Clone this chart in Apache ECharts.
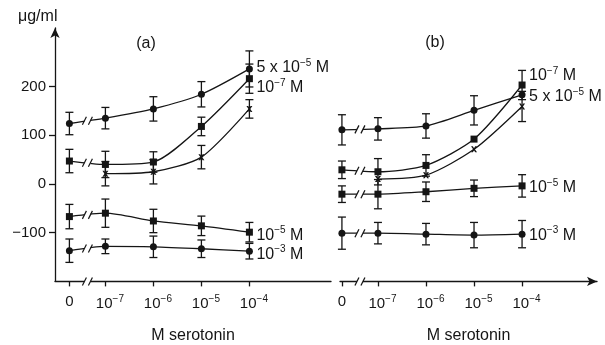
<!DOCTYPE html>
<html>
<head>
<meta charset="utf-8">
<script src="https://cdn.jsdelivr.net/npm/echarts@6/dist/echarts.min.js"></script>
<style>
  html, body { margin: 0; padding: 0; background: #fff; }
  #main { width: 605px; height: 345px; }
</style>
</head>
<body>
<div id="main"></div>
<script>
// x positions: 0 sits a bit left of 10^-7, then one unit per decade
var xPos = [-0.75, 0, 1, 2, 3];
var tickLabels = ['0', '10^-7', '10^-6', '10^-5', '10^-4'];
var yTicks = [-100, 0, 100, 200];

// panel (a)
var a5e5 = [124, 135, 154, 184, 236];
var a5e5Err = [23, 22, 25, 26, 37];
var a1e7 = [47, 40, 45, 118, 216];
var a1e7Err = [24, 27, 21, 19, 30];
var aX = [null, 21, 25, 55, 154];
var aXErr = [null, 25, 25, 24, 19];
var a1e5 = [-67, -60, -76, -86, -99];
var a1e5Err = [25, 29, 24, 20, 20];
var a1e3 = [-137, -128, -129, -133, -138];
var a1e3Err = [24, 15, 22, 18, 16];

// panel (b)
var b5e5 = [111, 113, 119, 151, 183];
var b5e5Err = [31, 23, 25, 30, null];
var b1e7 = [29, 25, 38, 92, 203];
var b1e7Err = [18, 27, 22, null, 30];
var bX = [null, 10, 18, 71, 159];
var bXErr = [null, null, null, null, 31];
var b1e5 = [-21, -21, -16, -9, -4];
var b1e5Err = [17, 30, 20, 17, 23];
var b1e3 = [-101, -101, -103, -105, -103];
var b1e3Err = [33, 22, 22, 26, 28];

var FONT = '"Liberation Sans", Arial, sans-serif';
var INK = '#151515';
var supRich = { s: { fontSize: 10, fontFamily: FONT, color: INK, padding: [0, 0, 9, 0] } };
var xMark = 'path://M0,0 L3,0 L5,3 L7,0 L10,0 L6.5,5 L10,10 L7,10 L5,7 L3,10 L0,10 L3.5,5 Z';

function richText(s) {
  // '10^-7' -> '10{s|−7}'
  return s.replace(/\^-(\d+)/g, function (m, d) { return '{s|\u2212' + d + '}'; });
}

function pts(vals) {
  var out = [];
  for (var i = 0; i < vals.length; i++) {
    if (vals[i] != null) out.push([xPos[i], vals[i]]);
  }
  return out;
}
function errs(vals, e) {
  var out = [];
  for (var i = 0; i < vals.length; i++) {
    if (vals[i] != null && e[i] != null) out.push([xPos[i], vals[i] - e[i], vals[i] + e[i]]);
  }
  return out;
}

function renderErr(params, api) {
  var x = api.value(0);
  var lo = api.coord([x, api.value(1)]);
  var hi = api.coord([x, api.value(2)]);
  var w = 4;
  var st = { stroke: INK, lineWidth: 1.3 };
  return {
    type: 'group',
    children: [
      { type: 'line', shape: { x1: lo[0], y1: lo[1], x2: hi[0], y2: hi[1] }, style: st },
      { type: 'line', shape: { x1: lo[0] - w, y1: lo[1], x2: lo[0] + w, y2: lo[1] }, style: st },
      { type: 'line', shape: { x1: hi[0] - w, y1: hi[1], x2: hi[0] + w, y2: hi[1] }, style: st }
    ]
  };
}

function renderBreak(params, api) {
  var p = api.coord([api.value(0), api.value(1)]);
  var st = { stroke: INK, lineWidth: 1.2 };
  return {
    type: 'group',
    children: [
      { type: 'rect', shape: { x: p[0] - 3, y: p[1] - 2, width: 6, height: 4 }, style: { fill: '#fff' } },
      { type: 'line', shape: { x1: p[0] - 5, y1: p[1] + 4, x2: p[0] - 1, y2: p[1] - 4 }, style: st },
      { type: 'line', shape: { x1: p[0] + 1, y1: p[1] + 4, x2: p[0] + 5, y2: p[1] - 4 }, style: st }
    ]
  };
}

function breaks(list, axisMin) {
  var out = [[(xPos[0] + xPos[1]) / 2, axisMin]];
  list.forEach(function (v) {
    if (v[0] != null && v[1] != null) out.push([(xPos[0] + xPos[1]) / 2, (v[0] + v[1]) / 2]);
  });
  return out;
}

function lineSeries(idx, vals, symbol, size, label, offset) {
  var s = {
    type: 'line',
    xAxisIndex: idx, yAxisIndex: idx,
    data: pts(vals),
    smooth: 0.25,
    symbol: symbol,
    symbolSize: size,
    showSymbol: true,
    itemStyle: { color: INK },
    lineStyle: { color: INK, width: 1.3 },
    z: 3
  };
  if (label) {
    s.endLabel = {
      show: true,
      formatter: richText(label),
      color: INK,
      fontFamily: FONT,
      fontSize: 16,
      distance: 4,
      offset: offset,
      rich: supRich
    };
  }
  return s;
}

function errSeries(idx, vals, e) {
  return {
    type: 'custom', xAxisIndex: idx, yAxisIndex: idx,
    renderItem: renderErr, data: errs(vals, e), z: 2, silent: true
  };
}

function xAxisCfg(idx, min, max, arrow) {
  return {
    type: 'value', gridIndex: idx, min: min, max: max,
    splitLine: { show: false },
    axisLine: {
      show: true,
      onZero: false,
      lineStyle: { color: INK, width: 1.3 },
      symbol: arrow ? ['none', 'arrow'] : 'none',
      symbolSize: [7, 10]
    },
    axisTick: { show: true, customValues: xPos, length: 5, lineStyle: { color: INK, width: 1.3 } },
    axisLabel: {
      customValues: xPos,
      margin: 13,
      color: INK, fontFamily: FONT, fontSize: 15,
      formatter: function (v) {
        var i = xPos.indexOf(v);
        if (i < 0) return '';
        var t = tickLabels[i];
        return t === '0' ? t : '{p|}' + richText(t);
      },
      rich: { s: supRich.s, p: { width: 9 } }
    },
    name: 'M serotonin',
    nameLocation: 'middle',
    nameGap: 46,
    nameTextStyle: { color: INK, fontFamily: FONT, fontSize: 16 }
  };
}

var option = {
  animation: false,
  backgroundColor: '#fff',
  grid: [
    { left: 55, top: 28, width: 276, height: 253.4, containLabel: false, outerBoundsMode: 'none' },
    { left: 340, top: 28, width: 257, height: 253.4, containLabel: false, outerBoundsMode: 'none' }
  ],
  xAxis: [
    xAxisCfg(0, -1.05, 4.7, false),
    xAxisCfg(1, -0.79, 4.56, true)
  ],
  yAxis: [
    {
      type: 'value', gridIndex: 0, min: -200, max: 320,
      splitLine: { show: false },
      axisLine: { show: true, onZero: false, lineStyle: { color: INK, width: 1.3 }, symbol: ['none', 'arrow'], symbolSize: [7, 10] },
      axisTick: { show: true, customValues: yTicks, length: 6, lineStyle: { color: INK, width: 1.3 } },
      axisLabel: {
        customValues: yTicks, margin: 9,
        color: INK, fontFamily: FONT, fontSize: 15,
        formatter: function (v) { return v < 0 ? '\u2212' + Math.abs(v) : String(v); }
      }
    },
    {
      type: 'value', gridIndex: 1, min: -200, max: 320, show: false,
      axisLine: { onZero: false }
    }
  ],
  graphic: [
    { type: 'text', x: 18, y: 17, style: { text: '\u03bcg/ml', font: '16px ' + FONT, fill: INK, textAlign: 'left', textVerticalAlign: 'middle', align: 'left', verticalAlign: 'middle' } },
    { type: 'text', x: 146, y: 44, style: { text: '(a)', font: '16px ' + FONT, fill: INK, textAlign: 'center', textVerticalAlign: 'middle', align: 'center', verticalAlign: 'middle' } },
    { type: 'text', x: 435, y: 43, style: { text: '(b)', font: '16px ' + FONT, fill: INK, textAlign: 'center', textVerticalAlign: 'middle', align: 'center', verticalAlign: 'middle' } }
  ],
  series: [
    // panel (a)
    errSeries(0, a5e5, a5e5Err),
    errSeries(0, a1e7, a1e7Err),
    errSeries(0, aX, aXErr),
    errSeries(0, a1e5, a1e5Err),
    errSeries(0, a1e3, a1e3Err),
    lineSeries(0, a5e5, 'circle', 7, '5 x 10^-5 M', [3, -1]),
    lineSeries(0, a1e7, 'rect', 7, '10^-7 M', [3, 9]),
    lineSeries(0, aX, xMark, 6, null),
    lineSeries(0, a1e5, 'rect', 7, '10^-5 M', [3, 3]),
    lineSeries(0, a1e3, 'circle', 7, '10^-3 M', [3, 3]),
    {
      type: 'custom', xAxisIndex: 0, yAxisIndex: 0, renderItem: renderBreak, z: 5, silent: true,
      data: breaks([a5e5, a1e7, a1e5, a1e3], -200)
    },
    // panel (b)
    errSeries(1, b5e5, b5e5Err),
    errSeries(1, b1e7, b1e7Err),
    errSeries(1, bX, bXErr),
    errSeries(1, b1e5, b1e5Err),
    errSeries(1, b1e3, b1e3Err),
    lineSeries(1, b5e5, 'circle', 7, '5 x 10^-5 M', [3, 2]),
    lineSeries(1, b1e7, 'rect', 7, '10^-7 M', [3, -9]),
    lineSeries(1, bX, xMark, 6, null),
    lineSeries(1, b1e5, 'rect', 7, '10^-5 M', [3, 2]),
    lineSeries(1, b1e3, 'circle', 7, '10^-3 M', [3, 1]),
    {
      type: 'custom', xAxisIndex: 1, yAxisIndex: 1, renderItem: renderBreak, z: 5, silent: true,
      data: breaks([b5e5, b1e7, b1e5, b1e3], -200)
    }
  ]
};

var chart = echarts.init(document.getElementById('main'));
chart.setOption(option);
</script>
</body>
</html>
